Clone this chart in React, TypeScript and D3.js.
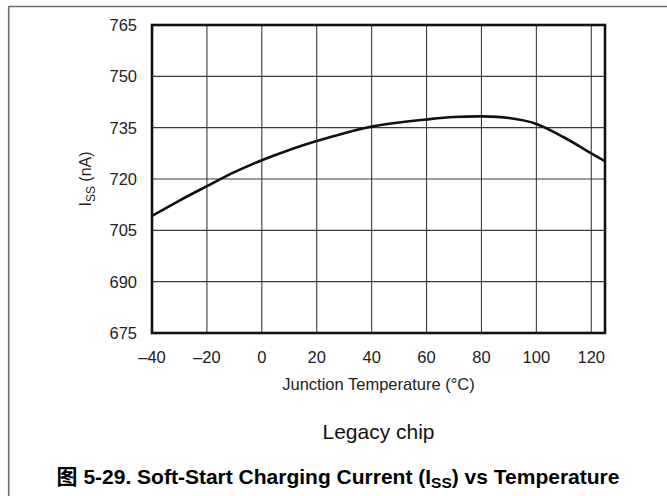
import { useEffect, useRef } from "react"
import * as d3 from "d3"

// Junction temperature (°C) and soft-start charging current (nA)
const temps = [-40, -30, -20, -10, 0, 10, 20, 30, 40, 50, 60, 70, 80, 90, 100, 110, 120, 125]
const issValues = [
  709.2, 713.7, 717.9, 722.0, 725.5, 728.5, 731.1, 733.4, 735.3, 736.5, 737.4, 738.1, 738.3, 737.8,
  736.1, 732.2, 727.5, 725.2,
]
const xTicks = [-40, -20, 0, 20, 40, 60, 80, 100, 120]
const yTicks = [675, 690, 705, 720, 735, 750, 765]

const FONT = "'Liberation Sans', Arial, Helvetica, 'Noto Sans CJK SC', sans-serif"

export default function App() {
  const svgRef = useRef<SVGSVGElement>(null)

  useEffect(() => {
    document.body.style.margin = "0"
    if (!svgRef.current) return

    const svg = d3.select(svgRef.current)
    svg.selectAll("*").remove()

    const width = 667
    const height = 496
    const margin = { top: 25, right: 62, bottom: 163, left: 152 }
    const innerWidth = width - margin.left - margin.right
    const innerHeight = height - margin.top - margin.bottom

    svg.append("rect").attr("width", width).attr("height", height).attr("fill", "white")

    // outer frame (top and left edges)
    svg
      .append("line")
      .attr("x1", 9)
      .attr("x2", width)
      .attr("y1", 6.5)
      .attr("y2", 6.5)
      .attr("stroke", "#6f6f6f")
      .attr("stroke-width", 1.6)
    svg
      .append("line")
      .attr("x1", 8.7)
      .attr("x2", 8.7)
      .attr("y1", 6)
      .attr("y2", height)
      .attr("stroke", "#6f6f6f")
      .attr("stroke-width", 1.6)

    const x = d3.scaleLinear().domain([-40, 125]).range([0, innerWidth])
    const y = d3.scaleLinear().domain([675, 765]).range([innerHeight, 0])

    const g = svg.append("g").attr("transform", `translate(${margin.left},${margin.top})`)

    // grid
    g.selectAll(".vgrid")
      .data(xTicks.slice(1))
      .enter()
      .append("line")
      .attr("x1", (d) => x(d))
      .attr("x2", (d) => x(d))
      .attr("y1", 0)
      .attr("y2", innerHeight)
      .attr("stroke", "#3a3a3a")
      .attr("stroke-width", 1.1)
    g.selectAll(".hgrid")
      .data(yTicks.slice(1, -1))
      .enter()
      .append("line")
      .attr("x1", 0)
      .attr("x2", innerWidth)
      .attr("y1", (d) => y(d))
      .attr("y2", (d) => y(d))
      .attr("stroke", "#3a3a3a")
      .attr("stroke-width", 1.1)

    // curve
    const line = d3
      .line<number>()
      .x((_, i) => x(temps[i]))
      .y((d) => y(d))
      .curve(d3.curveCatmullRom.alpha(0.5))
    g.append("path")
      .datum(issValues)
      .attr("d", line)
      .attr("fill", "none")
      .attr("stroke", "#111")
      .attr("stroke-width", 2.6)

    // plot border
    g.append("rect")
      .attr("width", innerWidth)
      .attr("height", innerHeight)
      .attr("fill", "none")
      .attr("stroke", "#111")
      .attr("stroke-width", 2.6)

    // tick labels
    g.selectAll(".xt")
      .data(xTicks)
      .enter()
      .append("text")
      .attr("x", (d) => x(d))
      .attr("y", innerHeight + 30)
      .attr("text-anchor", "middle")
      .attr("font-family", FONT)
      .attr("font-size", 16.5)
      .attr("fill", "#222")
      .text((d) => (d < 0 ? `\u2013${Math.abs(d)}` : `${d}`))
    g.selectAll(".yt")
      .data(yTicks)
      .enter()
      .append("text")
      .attr("x", -15)
      .attr("y", (d) => y(d) + 6)
      .attr("text-anchor", "end")
      .attr("font-family", FONT)
      .attr("font-size", 16.5)
      .attr("fill", "#222")
      .text((d) => d)

    // axis titles
    g.append("text")
      .attr("x", innerWidth / 2)
      .attr("y", innerHeight + 57)
      .attr("text-anchor", "middle")
      .attr("font-family", FONT)
      .attr("font-size", 16.5)
      .attr("fill", "#222")
      .text("Junction Temperature (°C)")

    const yl = g
      .append("text")
      .attr("transform", `translate(-61,${innerHeight / 2}) rotate(-90)`)
      .attr("text-anchor", "middle")
      .attr("font-family", FONT)
      .attr("font-size", 16)
      .attr("fill", "#222")
    yl.append("tspan").text("I")
    yl.append("tspan").attr("font-size", 12).attr("dy", 4).text("SS")
    yl.append("tspan").attr("dy", -4).text(" (nA)")

    svg
      .append("text")
      .attr("x", margin.left + innerWidth / 2)
      .attr("y", 439)
      .attr("text-anchor", "middle")
      .attr("font-family", FONT)
      .attr("font-size", 21)
      .attr("fill", "#111")
      .text("Legacy chip")

    const title = svg
      .append("text")
      .attr("x", 338)
      .attr("y", 484)
      .attr("text-anchor", "middle")
      .attr("font-family", FONT)
      .attr("font-size", 21)
      .attr("font-weight", "bold")
      .attr("fill", "#000")
    title.append("tspan").text("图 5-29. Soft-Start Charging Current (I")
    title.append("tspan").attr("font-size", 15.5).attr("dy", 4).text("SS")
    title.append("tspan").attr("dy", -4).text(") vs Temperature")
  }, [])

  return <svg ref={svgRef} width={667} height={496} style={{ display: "block" }} />
}
